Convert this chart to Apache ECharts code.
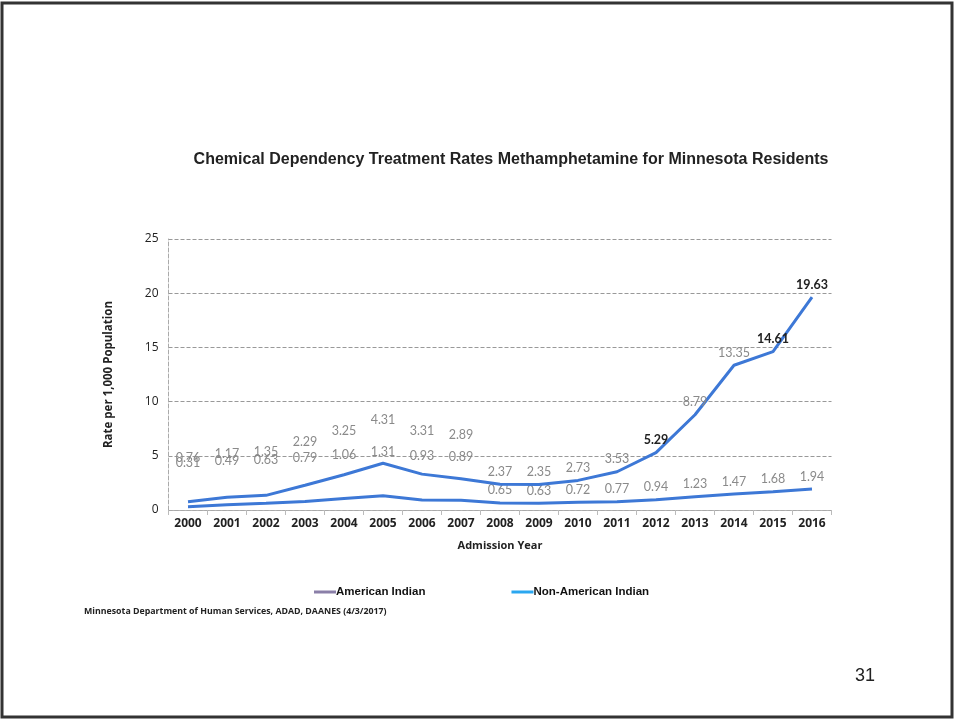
<!DOCTYPE html>
<html><head><meta charset="utf-8">
<script src="https://cdn.jsdelivr.net/npm/echarts@6/dist/echarts.min.js"></script>
<style>html,body{margin:0;padding:0;background:#fff}#c{width:955px;height:721px}</style>
</head><body><div id="c"></div>
<script>
const years = ['2000','2001','2002','2003','2004','2005','2006','2007','2008','2009','2010','2011','2012','2013','2014','2015','2016'];
const americanIndian = [0.76,1.17,1.35,2.29,3.25,4.31,3.31,2.89,2.37,2.35,2.73,3.53,5.29,8.79,13.35,14.61,19.63];
const nonAmericanIndian = [0.31,0.49,0.63,0.79,1.06,1.31,0.93,0.89,0.65,0.63,0.72,0.77,0.94,1.23,1.47,1.68,1.94];
const yTicks = [0,5,10,15,20,25];

const darkLabels = {12:true,15:true,16:true};
function mk(vals, isAI){
  return vals.map((v,i)=>{
    const lbl = {show:true, position:'top', distance: i<8 ? 37 : 6, color:'#8a8a8a', fontSize:12.5, fontFamily:'Lato, sans-serif'};
    if (isAI && darkLabels[i]) { lbl.color='#222'; lbl.fontWeight='bold'; }
    return {value:v, label:lbl};
  });
}
const chart = echarts.init(document.getElementById('c'));
chart.setOption({
  animation:false,
  title:{text:'Chemical Dependency Treatment Rates Methamphetamine for Minnesota Residents',
    left:506, top:147, textAlign:'center',
    textStyle:{fontFamily:'Liberation Sans, Arial, sans-serif', fontSize:16, fontWeight:'bold', color:'#222'}},
  grid:{left:168.5, right:123.5, top:239, bottom:211},
  legend:{top:581, left:309, itemGap:86, itemWidth:22, itemHeight:3,
    textStyle:{fontFamily:'Liberation Sans, Arial, sans-serif', fontSize:11.5, fontWeight:'bold', color:'#111', padding:[0,0,0,-5]},
    data:[
      {name:'American Indian', icon:'rect', itemStyle:{color:'#8a7fa8'}},
      {name:'Non-American Indian', icon:'rect', itemStyle:{color:'#2aa7f0'}}
    ]},
  xAxis:{type:'category', data:years, boundaryGap:true,
    name:'Admission Year', nameLocation:'middle', nameGap:30,
    nameTextStyle:{fontFamily:'Open Sans, sans-serif', fontSize:11, fontWeight:'bold', color:'#222'},
    axisLine:{lineStyle:{color:'#aaa', type:'dotted'}},
    axisTick:{show:true, alignWithLabel:false, lineStyle:{color:'#bbb'}},
    axisLabel:{fontFamily:'Open Sans, sans-serif', fontSize:12, fontWeight:'bold', color:'#222', margin:8}},
  yAxis:{type:'value', min:0, max:25, interval:5,
    name:'Rate per 1,000 Population', nameLocation:'middle', nameGap:54, nameRotate:90,
    nameTextStyle:{fontFamily:'Open Sans, sans-serif', fontSize:11.5, fontWeight:'bold', color:'#222'},
    axisLine:{show:true, lineStyle:{color:'#aaa', type:'dashed'}},
    axisTick:{show:false},
    axisLabel:{fontFamily:'Open Sans, sans-serif', fontSize:12, color:'#222', margin:10,
      formatter:v=> yTicks.includes(v) ? String(v) : ''},
    splitLine:{lineStyle:{color:'#999', type:'dashed'}}},
  series:[
    {name:'American Indian', type:'line', data:mk(americanIndian,true), symbol:'circle', symbolSize:0, showSymbol:true,
      lineStyle:{color:'#3d78d6', width:3}, itemStyle:{color:'#8a7fa8'}, z:3},
    {name:'Non-American Indian', type:'line', data:mk(nonAmericanIndian,false), symbol:'circle', symbolSize:0, showSymbol:true,
      lineStyle:{color:'#3d78d6', width:3}, itemStyle:{color:'#2aa7f0'}, z:2}
  ],
  graphic:[
    {type:'rect', shape:{x:2, y:3, width:950, height:714}, style:{fill:'none', stroke:'#333', lineWidth:3}},
    {type:'text', left:84, top:607, style:{text:'Minnesota Department of Human Services, ADAD, DAANES (4/3/2017)', font:'bold 8.8px "Open Sans", sans-serif', fill:'#222'}},
    {type:'text', left:855, top:667, style:{text:'31', font:'18px "Liberation Sans", Arial, sans-serif', fill:'#222'}}
  ]
});
</script></body></html>
